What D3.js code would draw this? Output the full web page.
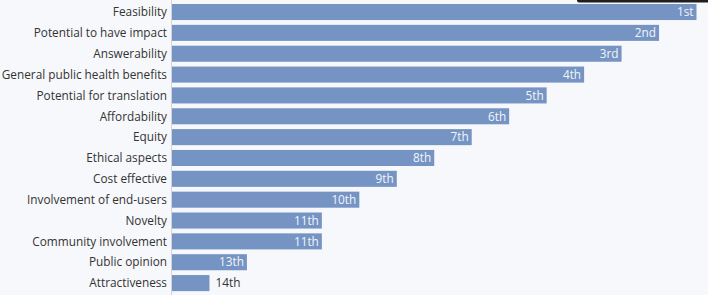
<!DOCTYPE html>
<html>
<head>
<meta charset="utf-8">
<script src="https://cdn.jsdelivr.net/npm/d3@7"></script>
<style>
  html, body { margin: 0; padding: 0; background: #f7f8fb; }
  svg { display: block; }
</style>
</head>
<body>
<svg id="chart" width="708" height="295"></svg>
<script>
const categories = [
  "Feasibility", "Potential to have impact", "Answerability",
  "General public health benefits", "Potential for translation",
  "Affordability", "Equity", "Ethical aspects", "Cost effective",
  "Involvement of end-users", "Novelty", "Community involvement",
  "Public opinion", "Attractiveness"
];
const scores = [14, 13, 12, 11, 10, 9, 8, 7, 6, 5, 4, 4, 2, 1];
const rankLabels = ["1st", "2nd", "3rd", "4th", "5th", "6th", "7th", "8th", "9th", "10th", "11th", "11th", "13th", "14th"];

const W = 708, H = 295;
const svg = d3.select("#chart");
svg.append("rect").attr("width", W).attr("height", H).attr("fill", "#f7f8fb");

const x = d3.scaleLinear().domain([0, 14]).range([172, 696.5]);
const y = d3.scaleBand().domain(categories).range([-0.8, 295.9]).padding(0.23);

const data = categories.map((c, i) => ({ c, v: scores[i], r: rankLabels[i] }));

// axis line
svg.append("line")
  .attr("x1", 171.5).attr("x2", 171.5).attr("y1", 0).attr("y2", H)
  .attr("stroke", "#d0d3d8").attr("stroke-width", 1);

svg.append("g").selectAll("rect").data(data).join("rect")
  .attr("x", x(0))
  .attr("y", d => y(d.c))
  .attr("width", d => x(d.v) - x(0))
  .attr("height", y.bandwidth())
  .attr("fill", "#7594c4");

const font = "'Open Sans', sans-serif";
const fs = 11.8;

// category labels
svg.append("g").selectAll("text").data(data).join("text")
  .attr("x", 167)
  .attr("y", d => y(d.c) + y.bandwidth() / 2)
  .attr("dy", "0.36em")
  .attr("text-anchor", "end")
  .attr("font-family", font)
  .attr("font-size", fs)
  .attr("fill", "#333")
  .text(d => d.c);

// value labels
svg.append("g").selectAll("text").data(data).join("text")
  .attr("x", d => d.v > 1 ? x(d.v) - 3 : x(d.v) + 6)
  .attr("y", d => y(d.c) + y.bandwidth() / 2)
  .attr("dy", "0.36em")
  .attr("text-anchor", d => d.v > 1 ? "end" : "start")
  .attr("font-family", font)
  .attr("font-size", fs)
  .attr("fill", d => d.v > 1 ? "#f2f4f8" : "#333")
  .text(d => d.r);

// dark element at top-right (cut-off overlay)
svg.append("rect").attr("x", 577).attr("y", -4).attr("width", 140).attr("height", 6.5)
  .attr("fill", "#1f1f1f").attr("rx", 2);
</script>
</body>
</html>
